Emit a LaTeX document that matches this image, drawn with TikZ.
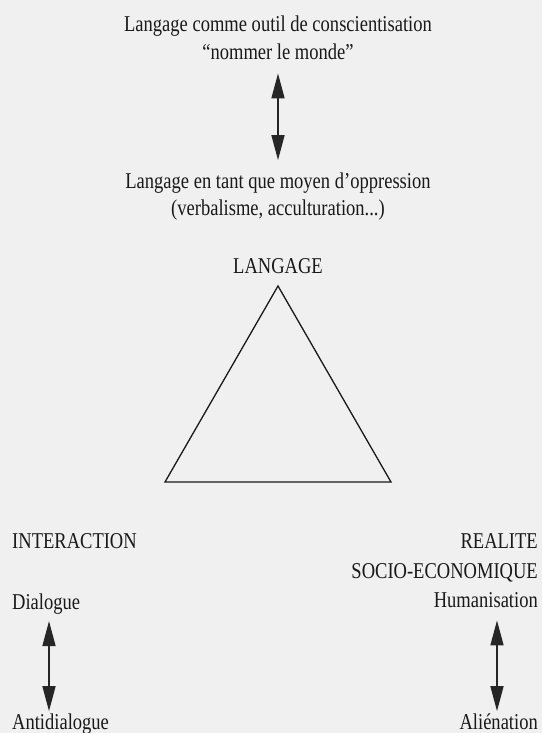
\documentclass[tikz,border=0pt]{standalone}
\usepackage{fontspec}
\setmainfont{Liberation Serif}[FakeStretch=0.82]
\usetikzlibrary{arrows.meta}

\tikzset{
  lbl/.style={inner sep=0pt, text=black!90, font=\fontsize{22.6}{27}\selectfont},
  biarrow/.style={black!85, line width=1.6pt, {Triangle[length=25pt, width=13pt]}-{Triangle[length=25pt, width=13pt]}},
}

\begin{document}
\begin{tikzpicture}[x=1pt, y=-1pt]
  \fill[black!6] (0,0) rectangle (542,733);
  \useasboundingbox (0,0) rectangle (542,733);
  % top pair
  \node[lbl, anchor=base] (outil) at (278,32) {Langage comme outil de conscientisation};
  \node[lbl, anchor=base] (nommer) at (278,60) {“nommer le monde”};
  \node[lbl, anchor=base] (oppression) at (278,188) {Langage en tant que moyen d’oppression};
  \node[lbl, anchor=base] (verbalisme) at (278,215) {(verbalisme, acculturation...)};
  \draw[biarrow, shorten <=13pt, shorten >=12pt] (nommer.south) -- (oppression.north);
  % triangle
  \node[lbl, anchor=base] (langage) at (278,273) {LANGAGE};
  \coordinate (apex) at (278,286);
  \coordinate (lbase) at (165,482);
  \coordinate (rbase) at (391,482);
  \draw[black!90, line width=1.3pt, line join=miter] (apex) -- (rbase) -- (lbase) -- cycle;
  % left corner
  \node[lbl, anchor=base west] (interaction) at (12,548) {INTERACTION};
  \node[lbl, anchor=base west] (dialogue) at (12,609) {Dialogue};
  \node[lbl, anchor=base west] (antidialogue) at (12,729) {Antidialogue};
  \coordinate (lax) at (49,0);
  \draw[biarrow, shorten <=7pt, shorten >=2pt] (dialogue.south -| lax) -- (antidialogue.north -| lax);
  % right corner
  \node[lbl, anchor=base east] (realite) at (538,548) {REALITE};
  \node[lbl, anchor=base east] (socio) at (538,578) {SOCIO-ECONOMIQUE};
  \node[lbl, anchor=base east] (humanisation) at (538,607) {Humanisation};
  \node[lbl, anchor=base east] (alienation) at (538,729) {Aliénation};
  \coordinate (rax) at (497,0);
  \draw[biarrow, shorten <=13pt, shorten >=2pt] (humanisation.south -| rax) -- (alienation.north -| rax);
\end{tikzpicture}
\end{document}
